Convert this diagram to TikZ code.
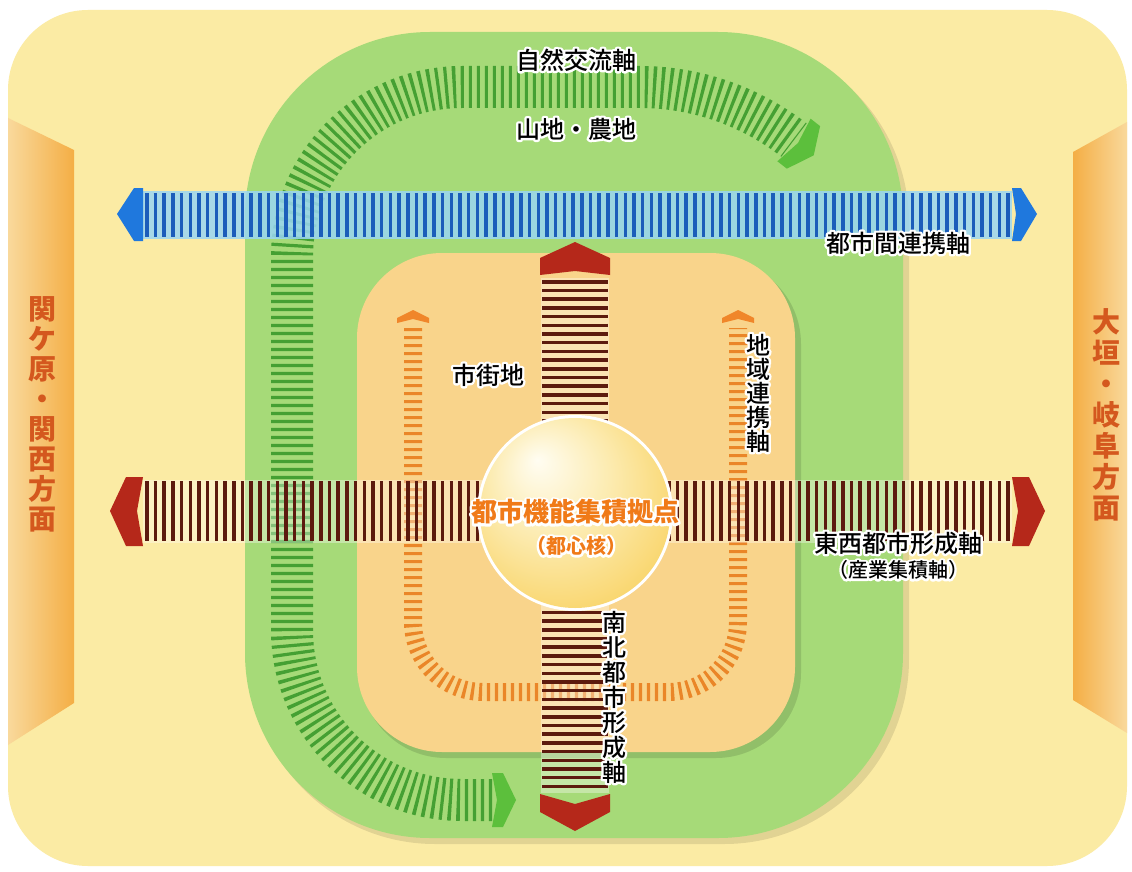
\documentclass[tikz,border=0pt]{standalone}
\usepackage{fontspec}
\IfFontExistsTF{Noto Sans CJK JP Medium}{\newfontfamily\jp{Noto Sans CJK JP Medium}}{\newfontfamily\jp{Noto Sans CJK JP}}
\newfontfamily\jpb{Noto Sans CJK JP}
\newcommand\haloon{\special{pdf:literal direct 2 Tr 4.6 w 1 j}}
\definecolor{cream}{HTML}{FBEBA4}
\definecolor{greenbg}{HTML}{A6DA78}
\definecolor{greenstripe}{HTML}{45A033}
\definecolor{greenhead}{HTML}{5CBF3C}
\definecolor{innerbox}{HTML}{F9D48B}
\definecolor{orangestripe}{HTML}{EA8628}
\definecolor{orangehead}{HTML}{F0862A}
\definecolor{bluebg}{HTML}{9AD6F3}
\definecolor{bluestripe}{HTML}{1B5DBA}
\definecolor{bluehead}{HTML}{1F78DD}
\definecolor{redstripe}{HTML}{5C1A0E}
\definecolor{redhead}{HTML}{B5281A}
\definecolor{barlight}{HTML}{F9D99C}
\definecolor{bardark}{HTML}{F4AE45}
\definecolor{sidetext}{HTML}{D4581E}
\definecolor{coretext}{HTML}{F07A18}
\definecolor{ballA}{HTML}{FFFDF2}
\definecolor{ballB}{HTML}{FCEBB0}
\definecolor{ballC}{HTML}{F8CE55}
\definecolor{ballD}{HTML}{F2B730}
\pgfdeclareradialshading{yball}{\pgfpoint{-10bp}{14bp}}{color(0bp)=(ballA); color(16bp)=(ballB); color(38bp)=(ballC); color(50bp)=(ballD)}
\newcommand\jlabel[5][]{%
  \node[#1,text=white,font=#4\haloon] at (#3) {#5};
  \node[font=#4,#1] (#2) at (#3) {#5};}
\tikzset{
  every node/.style={inner sep=0pt},
  stripes/.style={dash pattern=on 3.5pt off 5.2pt},
  gstripes/.style={draw=greenstripe, line width=42pt, dash pattern=on 3.2pt off 4.8pt},
  ostripes/.style={draw=orangestripe, line width=18pt, dash pattern=on 3.2pt off 4.8pt},
}
\begin{document}
\begin{tikzpicture}[x=1pt,y=-1pt]
\useasboundingbox (0,0) rectangle (1132,872);
\fill[white] (0,0) rectangle (1132,872);
\fill[cream, rounded corners=80pt] (8,10) rectangle (1127,866);
% side bars
\shade[left color=barlight, right color=bardark] (8,118) -- (74,150) -- (74,703) -- (8,745) -- cycle;
\shade[left color=bardark, right color=barlight] (1073,152) -- (1127,122) -- (1127,733) -- (1073,700) -- cycle;
% green region
\fill[black, opacity=.10, rounded corners=185pt] (250,38) rectangle (909,844);
\fill[greenbg, rounded corners=185pt] (245,32) rectangle (903,838);
% green band
\draw[gstripes] (492,800) -- (462,800) .. controls (368,800) and (292,724) .. (292,630) -- (292,257) .. controls (292,163) and (368,87) .. (462,87) -- (640,87) .. controls (696,87) and (750,106) .. (794,140);
\fill[greenhead] (492,773) -- (503,773) -- (516,800) -- (503,827) -- (492,827) -- (497,800) -- cycle;
\begin{scope}[shift={(794,140)}, rotate=-38]
\fill[greenhead] (0,-27) -- (12,-27) -- (25,0) -- (12,27) -- (0,27) -- (5,0) -- cycle;
\end{scope}
% inner box
\fill[black, opacity=.12, rounded corners=85pt] (361,259) rectangle (801,758);
\fill[innerbox, rounded corners=85pt] (357,253) rectangle (795,752);
% orange U
\draw[ostripes] (413,328) -- (413,622) .. controls (413,661) and (444,692) .. (483,692) -- (668,692) .. controls (707,692) and (738,661) .. (738,622) -- (738,328);
\fill[orangehead] (397,323) -- (397,318) -- (413,310) -- (429,318) -- (429,323) -- (413,319) -- cycle;
\fill[orangehead] (722,323) -- (722,318) -- (738,310) -- (754,318) -- (754,323) -- (738,319) -- cycle;
% blue band
\fill[bluebg, opacity=.85] (143,191) rectangle (1012,239);
\draw[bluestripe, line width=44pt, stripes] (145,215) -- (1012,215);
\fill[bluehead] (143,188) -- (134,188) -- (117,214) -- (134,241) -- (143,241) -- cycle;
\fill[bluehead] (1012,188) -- (1021,188) -- (1037,214) -- (1021,241) -- (1012,241) -- (1016,214) -- cycle;
% red horizontal
\fill[white, opacity=.35] (143,480) rectangle (1012,543);
\draw[redstripe, line width=60pt, stripes] (145,511) -- (1012,511);
\fill[redhead] (143,477) -- (126,477) -- (110,511) -- (126,546) -- (143,546) -- (137,511) -- cycle;
\fill[redhead] (1012,477) -- (1029,477) -- (1045,511) -- (1029,546) -- (1012,546) -- (1018,511) -- cycle;
% red vertical
\fill[white, opacity=.35] (541,278) rectangle (609,793);
\draw[redstripe, line width=66pt, stripes] (575,280) -- (575,792);
\fill[redhead] (540,275) -- (540,258) -- (575,242) -- (610,258) -- (610,275) -- (575,271) -- cycle;
\fill[redhead] (540,794) -- (575,804) -- (610,794) -- (610,812) -- (575,831) -- (540,812) -- cycle;
% core circle
\node[circle, fill=white, minimum size=196pt] (corerim) at (575,513) {};
\node[circle, shading=yball, minimum size=190pt] (core) at (575,513) {};
% labels
\jlabel{natural}{576,60}{\jp\fontsize{24}{26}\selectfont}{自然交流軸}
\jlabel{mount}{576,129}{\jp\fontsize{24}{26}\selectfont}{山地・農地}
\jlabel{intercity}{898,243}{\jp\fontsize{24}{26}\selectfont}{都市間連携軸}
\jlabel{urban}{488,375}{\jp\fontsize{24}{26}\selectfont}{市街地}
\jlabel[align=center]{regional}{758,393}{\jp\fontsize{24}{24}\selectfont}{地\\域\\連\\携\\軸}
\jlabel{ew}{898,543}{\jp\fontsize{24}{26}\selectfont}{東西都市形成軸}
\jlabel{ewsub}{898,570}{\jp\fontsize{20}{22}\selectfont}{（産業集積軸）}
\jlabel[align=center]{ns}{614,697}{\jp\fontsize{24}{25}\selectfont}{南\\北\\都\\市\\形\\成\\軸}
\jlabel[text=coretext]{core1}{575,512}{\jpb\fontsize{26}{28}\selectfont\bfseries}{都市機能集積拠点}
\jlabel[text=coretext]{core2}{576,546}{\jpb\fontsize{20}{22}\selectfont\bfseries}{（都心核）}
\node[align=center, text=sidetext, font=\jpb\fontsize{28}{30}\selectfont\bfseries] (west) at (42,414) {関\\ケ\\原\\・\\関\\西\\方\\面};
\node[align=center, text=sidetext, font=\jpb\fontsize{28}{31}\selectfont\bfseries] (east) at (1106,415) {大\\垣\\・\\岐\\阜\\方\\面};
\end{tikzpicture}
\end{document}
